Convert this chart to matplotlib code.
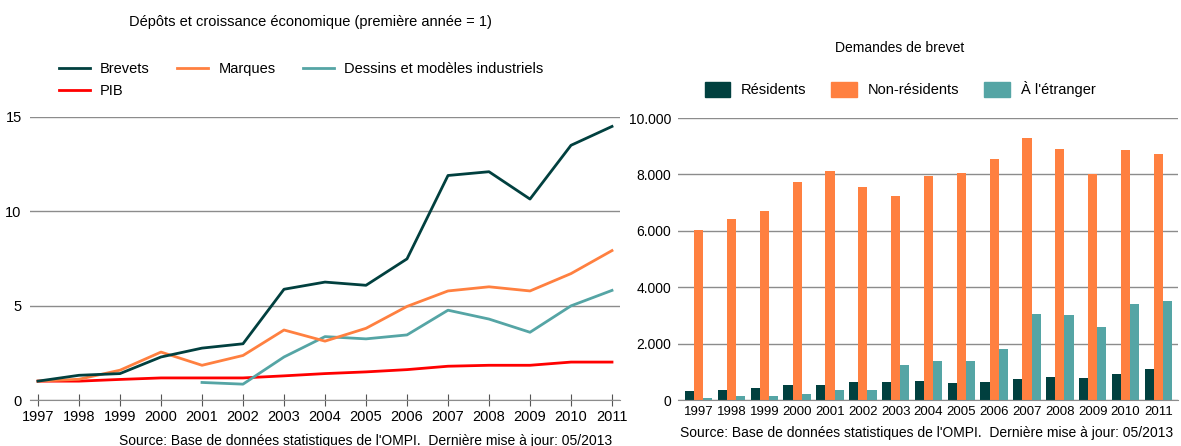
import matplotlib
matplotlib.use("Agg")
import matplotlib.pyplot as plt
from matplotlib.lines import Line2D
from matplotlib.patches import Patch
from matplotlib.ticker import FuncFormatter
import numpy as np

plt.rcParams['font.family'] = ['Liberation Sans', 'DejaVu Sans']

# --- data: left chart (index, first year = 1) ---
years = list(range(1997, 2012))
brevets = [1.0, 1.31, 1.4, 2.28, 2.75, 2.98, 5.87, 6.25, 6.08, 7.48, 11.9, 12.1, 10.65, 13.5, 14.5]
marques = [1.0, 1.1, 1.58, 2.54, 1.84, 2.36, 3.71, 3.12, 3.8, 4.96, 5.78, 6.0, 5.78, 6.7, 7.92]
dessins = [np.nan, np.nan, np.nan, np.nan, 0.93, 0.84, 2.28, 3.36, 3.24, 3.45, 4.76, 4.29, 3.59, 4.99, 5.81]
pib = [1.0, 1.0, 1.09, 1.17, 1.17, 1.17, 1.28, 1.4, 1.49, 1.61, 1.79, 1.84, 1.84, 2.01, 2.01]

# --- data: right chart (patent applications) ---
residents = [320, 355, 413, 543, 543, 638, 638, 685, 602, 638, 732, 826, 780, 921, 1110]
non_residents = [6045, 6423, 6694, 7721, 8135, 7568, 7237, 7946, 8040, 8560, 9292, 8914, 8005, 8878, 8737]
etranger = [70, 130, 130, 212, 354, 354, 1240, 1381, 1381, 1806, 3058, 3010, 2586, 3388, 3518]

DARK = '#01403f'
ORANGE = '#ff8040'
TEAL = '#55a5a5'
RED = '#ff0000'
GRID = '#8c8c8c'
SOURCE = "Source: Base de données statistiques de l'OMPI.  Dernière mise à jour: 05/2013"

W, H = 1181, 446
fig = plt.figure(figsize=(W / 100, H / 100), dpi=100)

# ---------------- left chart ----------------
ax1 = fig.add_axes([30 / W, 46 / H, 590 / W, 283 / H])
ax1.plot(years, pib, color=RED, lw=2, label='PIB')
ax1.plot(years, dessins, color=TEAL, lw=2, label='Dessins et modèles industriels')
ax1.plot(years, marques, color=ORANGE, lw=2, label='Marques')
ax1.plot(years, brevets, color=DARK, lw=2, label='Brevets')
ax1.set_xlim(1997 - 8 / 41, 2011 + 8 / 41)
ax1.set_ylim(0, 15)
ax1.set_yticks([0, 5, 10, 15])
ax1.set_xticks(years)
ax1.grid(axis='y', color=GRID, lw=1)
ax1.set_axisbelow(True)
for s in ['top', 'right', 'left']:
    ax1.spines[s].set_visible(False)
ax1.spines['bottom'].set_color(GRID)
ax1.tick_params(axis='x', direction='inout', length=9, color='#555555', labelsize=10.5, pad=3)
ax1.tick_params(axis='y', length=0, labelsize=10.5, pad=6)

handles = [Line2D([], [], color=DARK, lw=2), Line2D([], [], color=RED, lw=2),
           Line2D([], [], color=ORANGE, lw=2), Line2D([], [], color=TEAL, lw=2)]
labels = ['Brevets', 'PIB', 'Marques', 'Dessins et modèles industriels']
fig.legend(handles, labels, ncol=3, loc='upper left', bbox_to_anchor=(46 / W, 1 - 49 / H),
           frameon=False, fontsize=10.5, handlelength=2.1, columnspacing=1.9,
           handletextpad=0.7, labelspacing=0.55)
fig.text(310 / W, 1 - 22 / H, 'Dépôts et croissance économique (première année = 1)',
         ha='center', va='center', fontsize=10.5)
fig.text(612 / W, 1 - 441 / H, SOURCE, ha='right', va='center', fontsize=10)

# ---------------- right chart ----------------
ax2 = fig.add_axes([678 / W, 46 / H, 500 / W, 282 / H])
x = np.arange(len(years))
bw = 0.28
ax2.bar(x - bw, residents, bw, color=DARK, label='Résidents')
ax2.bar(x, non_residents, bw, color=ORANGE, label='Non-résidents')
ax2.bar(x + bw, etranger, bw, color=TEAL, label="À l'étranger")
ax2.set_xlim(-0.63, len(years) - 0.4)
ax2.set_ylim(0, 10000)
ax2.set_yticks([0, 2000, 4000, 6000, 8000, 10000])
ax2.yaxis.set_major_formatter(FuncFormatter(lambda v, p: f'{int(v):,}'.replace(',', '.')))
ax2.set_xticks(x)
ax2.set_xticklabels([str(y) for y in years])
ax2.grid(axis='y', color=GRID, lw=1)
ax2.set_axisbelow(True)
for s in ['top', 'right', 'left']:
    ax2.spines[s].set_visible(False)
ax2.spines['bottom'].set_color(GRID)
ax2.tick_params(axis='x', length=0, labelsize=9.5, pad=4)
ax2.tick_params(axis='y', length=0, labelsize=10, pad=5)

fig.legend([Patch(color=DARK), Patch(color=ORANGE), Patch(color=TEAL)],
           ['Résidents', 'Non-résidents', "À l'étranger"], ncol=3, loc='center',
           bbox_to_anchor=(900 / W, 1 - 89 / H), frameon=False, fontsize=10.5,
           handlelength=1.75, handleheight=1.2, columnspacing=1.7, handletextpad=0.75)
fig.text(900 / W, 1 - 48 / H, 'Demandes de brevet', ha='center', va='center', fontsize=10)
fig.text(1173 / W, 1 - 433 / H, SOURCE, ha='right', va='center', fontsize=10)

fig.savefig('out.png', dpi=100)
